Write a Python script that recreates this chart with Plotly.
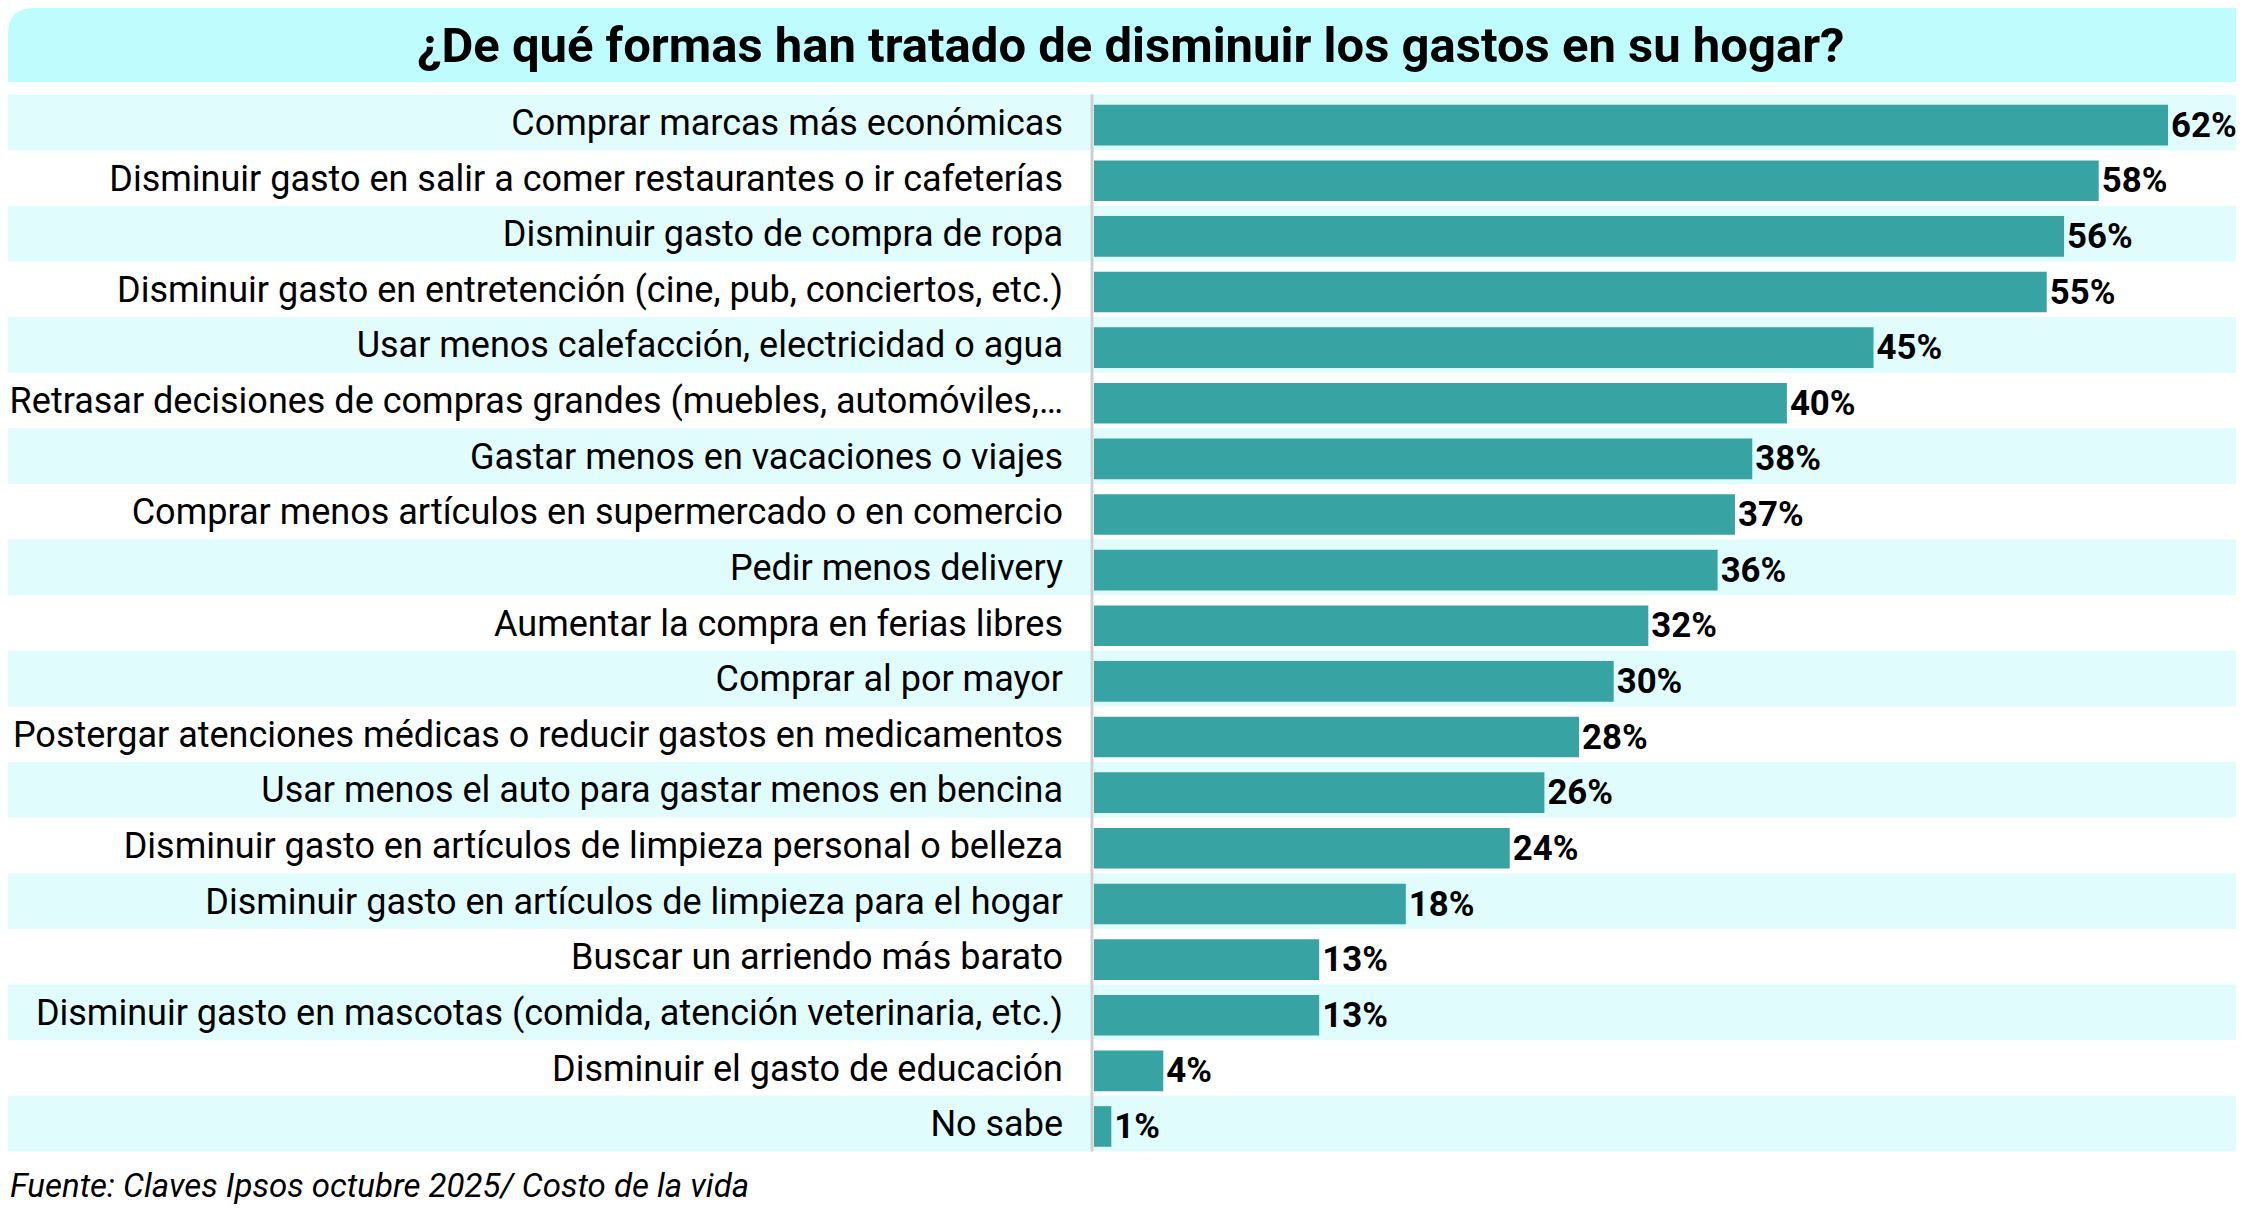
import plotly.graph_objects as go

categories = [
    "Comprar marcas más económicas",
    "Disminuir gasto en salir a comer restaurantes o ir cafeterías",
    "Disminuir gasto de compra de ropa",
    "Disminuir gasto en entretención (cine, pub, conciertos, etc.)",
    "Usar menos calefacción, electricidad o agua",
    "Retrasar decisiones de compras grandes (muebles, automóviles,…",
    "Gastar menos en vacaciones o viajes",
    "Comprar menos artículos en supermercado o en comercio",
    "Pedir menos delivery",
    "Aumentar la compra en ferias libres",
    "Comprar al por mayor",
    "Postergar atenciones médicas o reducir gastos en medicamentos",
    "Usar menos el auto para gastar menos en bencina",
    "Disminuir gasto en artículos de limpieza personal o belleza",
    "Disminuir gasto en artículos de limpieza para el hogar",
    "Buscar un arriendo más barato",
    "Disminuir gasto en mascotas (comida, atención veterinaria, etc.)",
    "Disminuir el gasto de educación",
    "No sabe",
]
values = [62, 58, 56, 55, 45, 40, 38, 37, 36, 32, 30, 28, 26, 24, 18, 13, 13, 4, 1]
value_labels = [f"{v}%" for v in values]

title_text = "¿De qué formas han tratado de disminuir los gastos en su hogar?"
source_text = "Fuente: Claves Ipsos octubre 2025/ Costo de la vida"

W, H = 2244, 1230
ML, MR, MT, MB = 1086, 0, 85, 85
PW, PH = W - ML - MR, H - MT - MB

FONT = "Roboto, Liberation Sans, sans-serif"
BAR = "#37a3a3"
STRIPE = "#e0fcfd"
BAND = "#bffcfd"
BAR_W = 0.73

fig = go.Figure(go.Bar(
    x=values, y=categories, orientation="h",
    marker=dict(color=BAR, line=dict(width=0)),
    width=BAR_W, offset=-BAR_W / 2 + 0.05,
    text=value_labels, textposition="outside",
    textfont=dict(family=FONT, size=36, color="#000000", weight="bold"),
    cliponaxis=False,
    hoverinfo="skip",
))

shapes = []
def px2x(p):
    return (p - ML) / PW
def py2y(p):
    return 1 - (p - MT) / PH

# stripes
for i in range(0, len(categories), 2):
    shapes.append(dict(type="rect", xref="paper", yref="y", x0=px2x(0), x1=1,
                       y0=i - 0.5, y1=i + 0.5, fillcolor=STRIPE,
                       line=dict(width=0), layer="below"))
# title band with rounded top-left corner
r = 26
band_bottom = 74
path = (f"M {px2x(0)},{py2y(band_bottom)} L {px2x(0)},{py2y(r)} "
        f"Q {px2x(0)},{py2y(0)} {px2x(r)},{py2y(0)} "
        f"L {px2x(W)},{py2y(0)} L {px2x(W)},{py2y(band_bottom)} Z")
shapes.append(dict(type="path", xref="paper", yref="paper", path=path,
                   fillcolor=BAND, line=dict(width=0), layer="below"))
# axis line
shapes.append(dict(type="line", xref="paper", yref="y", x0=px2x(1084), x1=px2x(1084),
                   y0=-0.5, y1=len(categories) - 0.5,
                   line=dict(color="#cfcfcf", width=3), layer="below"))

annotations = [
    dict(text=f"<b>{title_text}</b>", xref="paper", yref="paper",
         x=px2x(W / 2), y=py2y(37), xanchor="center", yanchor="middle",
         showarrow=False, font=dict(family=FONT, size=49, color="#000000")),
    dict(text=f"<i>{source_text}</i>", xref="paper", yref="paper",
         x=px2x(0), y=py2y(1177), xanchor="left", yanchor="middle",
         showarrow=False, font=dict(family=FONT, size=33, color="#000000")),
]

fig.update_layout(
    width=W, height=H,
    margin=dict(l=ML, r=MR, t=MT, b=MB, pad=0, autoexpand=False),
    paper_bgcolor="#ffffff", plot_bgcolor="rgba(0,0,0,0)",
    showlegend=False,
    shapes=shapes, annotations=annotations,
    xaxis=dict(range=[0, (W - ML) / ((2161 - 1087) / 62)], visible=False, fixedrange=True),
    yaxis=dict(autorange="reversed", showgrid=False, zeroline=False, showline=False,
               ticks="", ticklabelstandoff=30, automargin=False,
               tickfont=dict(family=FONT, size=36, color="#000000"),
               fixedrange=True),
    font=dict(family=FONT),
)

fig.write_html("out.html")
